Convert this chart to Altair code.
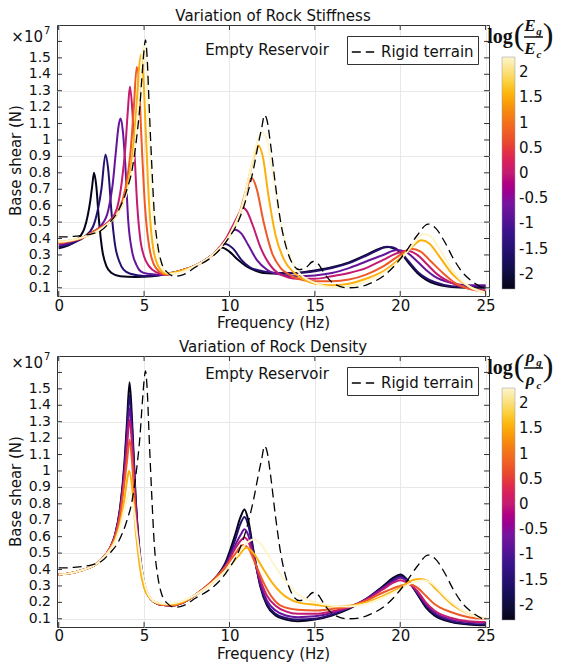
import altair as alt
import pandas as pd

FONT = "DejaVu Sans"
SERIF = "Liberation Serif"

LEVELS = [-2.3, -1.53, -0.77, 0.0, 0.77, 1.53, 2.3]

# ---------------- Top panel: variation of rock stiffness ----------------
S_F0 = [0, 0.5, 1.0, 1.3, 1.5, 1.7, 1.85, 1.95, 2.07, 2.2, 2.35, 2.55, 2.8, 3.1, 3.6, 4.5, 5.5, 6.3, 7.0, 8.0, 9.0, 9.55, 10.0, 10.5, 11.0, 11.5, 12.0, 13.0, 14.0, 15.0, 16.0, 17.0, 18.0, 18.6, 19.0, 19.3, 19.7, 20.0, 20.5, 21.0, 21.5, 22.0, 23.0, 24.0, 25.0]
S_V0 = [0.34, 0.355, 0.385, 0.42, 0.46, 0.54, 0.63, 0.71, 0.8, 0.72, 0.52, 0.33, 0.23, 0.19, 0.17, 0.165, 0.17, 0.185, 0.2, 0.235, 0.3, 0.346, 0.32, 0.27, 0.23, 0.205, 0.19, 0.185, 0.19, 0.205, 0.225, 0.255, 0.3, 0.33, 0.345, 0.348, 0.335, 0.315, 0.25, 0.19, 0.15, 0.125, 0.105, 0.1, 0.1]

S_F1 = [0, 0.5, 1.0, 1.5, 2.0, 2.3, 2.5, 2.74, 2.9, 3.1, 3.3, 3.55, 3.8, 4.2, 5.0, 6.0, 7.0, 8.0, 9.0, 9.75, 10.2, 10.7, 11.2, 12.0, 13.0, 14.0, 15.0, 16.0, 17.0, 18.0, 18.7, 19.2, 19.6, 20.0, 20.5, 21.0, 21.5, 22.0, 23.0, 24.0, 25.0]
S_V1 = [0.35, 0.36, 0.38, 0.41, 0.47, 0.58, 0.7, 0.91, 0.82, 0.55, 0.36, 0.26, 0.21, 0.185, 0.172, 0.178, 0.2, 0.235, 0.3, 0.367, 0.34, 0.27, 0.225, 0.2, 0.19, 0.19, 0.2, 0.22, 0.25, 0.295, 0.33, 0.35, 0.345, 0.32, 0.26, 0.2, 0.16, 0.135, 0.11, 0.105, 0.11]

S_F2 = [0, 0.5, 1.0, 1.5, 2.0, 2.5, 2.9, 3.15, 3.35, 3.5, 3.62, 3.75, 3.9, 4.07, 4.3, 4.55, 4.8, 5.2, 5.8, 6.3, 7.0, 8.0, 9.0, 9.6, 10.0, 10.33, 10.7, 11.1, 11.6, 12.2, 13.0, 14.0, 15.0, 16.0, 17.0, 18.0, 19.0, 19.8, 20.3, 21.0, 21.5, 22.0, 23.0, 24.0, 24.6, 25.0]
S_V2 = [0.36, 0.37, 0.39, 0.41, 0.44, 0.48, 0.57, 0.72, 0.93, 1.08, 1.13, 1.06, 0.85, 0.51, 0.32, 0.24, 0.2, 0.185, 0.18, 0.18, 0.2, 0.235, 0.3, 0.36, 0.42, 0.454, 0.43, 0.36, 0.27, 0.21, 0.18, 0.17, 0.175, 0.19, 0.22, 0.26, 0.3, 0.33, 0.32, 0.26, 0.21, 0.17, 0.13, 0.115, 0.115, 0.115]

S_F3 = [0, 0.5, 1.0, 1.5, 2.0, 2.5, 3.0, 3.4, 3.7, 3.9, 4.05, 4.17, 4.3, 4.45, 4.6, 4.8, 5.0, 5.3, 5.7, 6.3, 7.0, 8.0, 9.0, 9.8, 10.3, 10.6, 10.78, 11.0, 11.4, 11.8, 12.3, 13.0, 14.0, 15.0, 16.0, 17.0, 18.0, 19.0, 19.8, 20.4, 21.0, 21.6, 22.2, 23.0, 24.0, 25.0]
S_V3 = [0.37, 0.38, 0.39, 0.41, 0.44, 0.47, 0.51, 0.58, 0.75, 0.95, 1.18, 1.324, 1.2, 0.9, 0.6, 0.38, 0.29, 0.23, 0.195, 0.18, 0.2, 0.235, 0.3, 0.4, 0.5, 0.56, 0.589, 0.57, 0.47, 0.35, 0.25, 0.18, 0.155, 0.155, 0.17, 0.19, 0.22, 0.27, 0.31, 0.325, 0.3, 0.24, 0.18, 0.13, 0.095, 0.085]

S_F4 = [0, 0.5, 1.0, 1.5, 2.0, 2.5, 3.0, 3.5, 3.9, 4.2, 4.4, 4.57, 4.7, 4.85, 5.05, 5.3, 5.7, 6.3, 7.0, 8.0, 9.0, 10.0, 10.6, 11.0, 11.31, 11.6, 12.0, 12.5, 13.0, 13.5, 14.0, 15.0, 16.0, 17.0, 18.0, 19.0, 20.0, 20.64, 21.2, 21.8, 22.5, 23.2, 24.0, 25.0]
S_V4 = [0.37, 0.38, 0.39, 0.41, 0.44, 0.47, 0.5, 0.57, 0.7, 0.92, 1.2, 1.445, 1.35, 1.0, 0.6, 0.35, 0.22, 0.18, 0.2, 0.235, 0.3, 0.42, 0.56, 0.7, 0.768, 0.7, 0.5, 0.31, 0.22, 0.18, 0.155, 0.14, 0.14, 0.15, 0.18, 0.23, 0.3, 0.337, 0.32, 0.26, 0.19, 0.13, 0.095, 0.075]

S_F5 = [0, 0.5, 1.0, 1.5, 2.0, 2.5, 3.0, 3.5, 4.0, 4.3, 4.55, 4.72, 4.82, 4.95, 5.1, 5.3, 5.55, 5.9, 6.3, 7.0, 8.0, 9.0, 10.0, 10.7, 11.2, 11.5, 11.7, 11.95, 12.3, 12.7, 13.2, 13.7, 14.2, 15.0, 16.0, 17.0, 18.0, 19.0, 20.0, 20.7, 21.24, 21.7, 22.3, 23.0, 24.0, 25.0]
S_V5 = [0.38, 0.385, 0.395, 0.41, 0.43, 0.46, 0.5, 0.56, 0.7, 0.9, 1.2, 1.45, 1.52, 1.4, 1.05, 0.6, 0.33, 0.22, 0.185, 0.2, 0.235, 0.3, 0.42, 0.58, 0.8, 0.92, 0.966, 0.9, 0.65, 0.42, 0.27, 0.2, 0.16, 0.125, 0.115, 0.125, 0.155, 0.2, 0.28, 0.35, 0.389, 0.37, 0.29, 0.19, 0.11, 0.07]

S_F6 = [0, 0.5, 1.0, 1.5, 2.0, 2.5, 3.0, 3.5, 4.0, 4.4, 4.7, 4.87, 4.98, 5.1, 5.25, 5.45, 5.7, 6.1, 6.5, 7.0, 8.0, 9.0, 10.0, 10.8, 11.3, 11.6, 11.9, 12.2, 12.5, 12.9, 13.4, 14.0, 15.0, 16.0, 17.0, 18.0, 19.0, 20.0, 20.8, 21.34, 21.8, 22.4, 23.1, 24.0, 25.0]
S_V6 = [0.38, 0.385, 0.395, 0.41, 0.43, 0.46, 0.5, 0.56, 0.68, 0.9, 1.25, 1.5, 1.58, 1.5, 1.15, 0.7, 0.38, 0.22, 0.185, 0.19, 0.235, 0.3, 0.42, 0.62, 0.85, 0.98, 1.047, 1.0, 0.82, 0.55, 0.33, 0.2, 0.13, 0.105, 0.11, 0.14, 0.19, 0.27, 0.37, 0.428, 0.41, 0.32, 0.2, 0.11, 0.07]

# ---------------- Rigid terrain (dashed, both panels) ----------------
RIGID_F = [0, 0.5, 1.0, 1.5, 2.0, 2.5, 3.0, 3.5, 4.0, 4.3, 4.55, 4.75, 4.9, 5.0, 5.08, 5.18, 5.3, 5.45, 5.6, 5.8, 6.0, 6.3, 6.8, 7.3, 8.0, 9.0, 9.5, 10.0, 10.5, 11.0, 11.4, 11.7, 11.9, 12.05, 12.2, 12.4, 12.7, 13.0, 13.4, 13.8, 14.1, 14.5, 14.9, 15.2, 15.6, 16.2, 16.9, 17.6, 18.3, 19.0, 19.8, 20.4, 21.0, 21.63, 22.1, 22.6, 23.1, 23.6, 24.2, 25.0]
RIGID_V = [0.41, 0.41, 0.415, 0.42, 0.43, 0.45, 0.5, 0.57, 0.7, 0.82, 1.0, 1.2, 1.42, 1.55, 1.61, 1.5, 1.2, 0.85, 0.55, 0.36, 0.26, 0.2, 0.17, 0.18, 0.225, 0.29, 0.34, 0.41, 0.5, 0.65, 0.82, 0.98, 1.08, 1.152, 1.12, 0.98, 0.72, 0.5, 0.32, 0.23, 0.21, 0.225, 0.26, 0.245, 0.18, 0.12, 0.1, 0.105, 0.13, 0.17, 0.25, 0.33, 0.42, 0.488, 0.46, 0.38, 0.28, 0.2, 0.14, 0.09]

# ---------------- Bottom panel: variation of rock density ----------------
D_F0 = [0, 0.5, 1.0, 1.5, 2.0, 2.5, 3.0, 3.3, 3.6, 3.85, 4.0, 4.15, 4.3, 4.5, 4.75, 5.0, 5.4, 6.0, 6.6, 7.2, 8.0, 9.0, 9.8, 10.3, 10.65, 10.88, 11.1, 11.4, 11.8, 12.2, 12.7, 13.3, 14.0, 15.0, 16.0, 17.0, 18.0, 19.0, 19.6, 20.0, 20.4, 21.0, 21.5, 22.0, 23.0, 24.0, 25.0]
D_V0 = [0.37, 0.375, 0.385, 0.4, 0.42, 0.46, 0.53, 0.61, 0.78, 1.05, 1.3, 1.54, 1.3, 0.85, 0.5, 0.32, 0.22, 0.185, 0.18, 0.195, 0.245, 0.33, 0.45, 0.6, 0.72, 0.765, 0.7, 0.52, 0.3, 0.18, 0.12, 0.095, 0.085, 0.095, 0.12, 0.16, 0.22, 0.3, 0.35, 0.37, 0.34, 0.25, 0.17, 0.12, 0.08, 0.065, 0.06]

D_F1 = [0, 0.5, 1.0, 1.5, 2.0, 2.5, 3.0, 3.3, 3.6, 3.85, 4.0, 4.15, 4.3, 4.5, 4.75, 5.0, 5.4, 6.0, 6.6, 7.2, 8.0, 9.0, 9.8, 10.3, 10.65, 10.88, 11.1, 11.4, 11.8, 12.2, 12.7, 13.3, 14.0, 15.0, 16.0, 17.0, 18.0, 19.0, 19.6, 20.0, 20.4, 21.0, 21.5, 22.0, 23.0, 24.0, 25.0]
D_V1 = [0.37, 0.375, 0.385, 0.4, 0.42, 0.46, 0.53, 0.61, 0.77, 1.02, 1.25, 1.46, 1.25, 0.83, 0.49, 0.32, 0.22, 0.185, 0.18, 0.195, 0.245, 0.33, 0.44, 0.57, 0.68, 0.72, 0.67, 0.51, 0.31, 0.19, 0.13, 0.105, 0.095, 0.1, 0.125, 0.165, 0.22, 0.29, 0.34, 0.36, 0.335, 0.255, 0.18, 0.13, 0.085, 0.07, 0.065]

D_F2 = [0, 0.5, 1.0, 1.5, 2.0, 2.5, 3.0, 3.3, 3.6, 3.85, 4.0, 4.15, 4.3, 4.5, 4.75, 5.0, 5.4, 6.0, 6.6, 7.2, 8.0, 9.0, 9.8, 10.3, 10.65, 10.88, 11.1, 11.4, 11.8, 12.2, 12.7, 13.3, 14.0, 15.0, 16.0, 17.0, 18.0, 19.0, 19.6, 20.0, 20.4, 21.0, 21.5, 22.0, 23.0, 24.0, 25.0]
D_V2 = [0.37, 0.375, 0.385, 0.4, 0.42, 0.46, 0.53, 0.61, 0.76, 1.0, 1.2, 1.38, 1.2, 0.8, 0.48, 0.31, 0.22, 0.185, 0.18, 0.195, 0.245, 0.33, 0.43, 0.54, 0.61, 0.645, 0.61, 0.49, 0.32, 0.21, 0.15, 0.12, 0.11, 0.115, 0.135, 0.17, 0.22, 0.29, 0.33, 0.35, 0.33, 0.26, 0.19, 0.14, 0.095, 0.08, 0.075]

D_F3 = [0, 0.5, 1.0, 1.5, 2.0, 2.5, 3.0, 3.3, 3.6, 3.85, 4.0, 4.15, 4.3, 4.5, 4.75, 5.0, 5.4, 6.0, 6.6, 7.2, 8.0, 9.0, 9.8, 10.3, 10.65, 10.88, 11.1, 11.4, 11.8, 12.2, 12.7, 13.3, 14.0, 15.0, 16.0, 17.0, 18.0, 19.0, 19.6, 20.0, 20.4, 21.0, 21.5, 22.0, 23.0, 24.0, 25.0]
D_V3 = [0.37, 0.375, 0.385, 0.4, 0.42, 0.46, 0.53, 0.6, 0.75, 0.97, 1.15, 1.31, 1.15, 0.78, 0.47, 0.31, 0.22, 0.185, 0.18, 0.195, 0.245, 0.33, 0.42, 0.52, 0.575, 0.595, 0.57, 0.48, 0.34, 0.24, 0.18, 0.145, 0.13, 0.13, 0.145, 0.17, 0.215, 0.28, 0.32, 0.335, 0.32, 0.27, 0.2, 0.15, 0.105, 0.085, 0.08]

D_F4 = [0, 0.5, 1.0, 1.5, 2.0, 2.5, 3.0, 3.3, 3.6, 3.85, 4.0, 4.15, 4.3, 4.5, 4.75, 5.0, 5.4, 6.0, 6.6, 7.2, 8.0, 9.0, 9.8, 10.3, 10.8, 11.1, 11.5, 12.0, 12.5, 13.0, 14.0, 15.0, 16.0, 17.0, 18.0, 19.0, 20.0, 20.5, 21.0, 21.5, 22.0, 23.0, 24.0, 25.0]
D_V4 = [0.37, 0.375, 0.385, 0.4, 0.42, 0.46, 0.53, 0.6, 0.73, 0.93, 1.06, 1.19, 1.05, 0.72, 0.45, 0.3, 0.22, 0.185, 0.18, 0.195, 0.245, 0.33, 0.42, 0.49, 0.549, 0.53, 0.44, 0.32, 0.23, 0.18, 0.155, 0.15, 0.16, 0.175, 0.21, 0.26, 0.3, 0.31, 0.29, 0.24, 0.19, 0.14, 0.11, 0.1]

D_F5 = [0, 0.5, 1.0, 1.5, 2.0, 2.5, 3.0, 3.3, 3.6, 3.85, 4.0, 4.12, 4.3, 4.5, 4.75, 5.0, 5.4, 6.0, 6.6, 7.2, 8.0, 9.0, 10.0, 10.5, 11.0, 11.4, 12.0, 12.5, 13.0, 14.0, 15.0, 16.0, 17.0, 18.0, 19.0, 20.0, 20.6, 21.15, 21.6, 22.2, 23.0, 24.0, 25.0]
D_V5 = [0.37, 0.375, 0.385, 0.4, 0.42, 0.46, 0.52, 0.58, 0.68, 0.83, 0.94, 1.0, 0.9, 0.65, 0.42, 0.29, 0.22, 0.19, 0.185, 0.2, 0.245, 0.32, 0.42, 0.48, 0.532, 0.5, 0.4, 0.32, 0.26, 0.2, 0.185, 0.175, 0.18, 0.2, 0.24, 0.29, 0.33, 0.342, 0.33, 0.27, 0.19, 0.13, 0.1]

D_F6 = [0, 0.5, 1.0, 1.5, 2.0, 2.5, 3.0, 3.3, 3.6, 3.85, 4.0, 4.15, 4.35, 4.6, 4.9, 5.2, 5.7, 6.3, 7.0, 8.0, 9.0, 10.0, 10.6, 11.0, 11.4, 11.8, 12.3, 13.0, 13.5, 14.0, 14.5, 15.0, 16.0, 17.0, 18.0, 19.0, 20.0, 20.7, 21.3, 21.8, 22.5, 23.0, 24.0, 25.0]
D_V6 = [0.37, 0.375, 0.385, 0.4, 0.42, 0.46, 0.52, 0.57, 0.66, 0.77, 0.83, 0.87, 0.8, 0.6, 0.38, 0.26, 0.2, 0.19, 0.2, 0.245, 0.32, 0.42, 0.51, 0.56, 0.583, 0.56, 0.48, 0.37, 0.3, 0.25, 0.22, 0.2, 0.18, 0.175, 0.19, 0.23, 0.28, 0.32, 0.335, 0.32, 0.25, 0.2, 0.13, 0.1]

# ---------------- ticks / colour scale ----------------
X_TICKS = [0, 5, 10, 15, 20, 25]
Y_TICKS = [0.1, 0.2, 0.3, 0.4, 0.5, 0.6, 0.7, 0.8, 0.9, 1.0, 1.1, 1.2, 1.3, 1.4, 1.5, 1.6]
Y_LABEL_VALUES = [0.1, 0.2, 0.3, 0.4, 0.5, 0.6, 0.7, 0.8, 0.9, 1.0, 1.1, 1.2, 1.3, 1.4, 1.5]
Y_LABELS = ["0.1", "0.2", "0.3", "0.4", "0.5", "0.6", "0.7", "0.8", "0.9", "1", "1.1", "1.2", "1.3", "1.4", "1.5"]
CB_TICKS = [-2, -1.5, -1, -0.5, 0, 0.5, 1, 1.5, 2]
CB_STOPS = [-2.3, -1.725, -1.15, -0.575, 0.0, 0.575, 1.15, 1.725, 2.3]
CB_COLORS = ["#05031a", "#1b0e5e", "#3c138f", "#7a15a0", "#c41b72", "#e8452f", "#f57f12", "#fcc81a", "#fdf5cc"]

W, H = 432, 271


def panel(fs, vs, title, sym, txt_y, x10_y, xlabel_pad, xtitle_pad):
    rows = []
    for lvl, f, v in zip(LEVELS, fs, vs):
        for a, b in zip(f, v):
            rows.append({"f": a, "v": b, "k": lvl})
    df = pd.DataFrame(rows)
    rig = pd.DataFrame({"f": RIGID_F, "v": RIGID_V, "s": ["Rigid terrain"] * len(RIGID_F)})

    xs = alt.Scale(domain=[-0.1, 25.2], nice=False, zero=False)
    ys = alt.Scale(domain=[0.05, 1.7], nice=False, zero=False)
    cs = alt.Scale(domain=CB_STOPS, range=CB_COLORS)

    lines = alt.Chart(df).mark_line(strokeWidth=2, interpolate="monotone").encode(
        x=alt.X("f:Q", scale=xs, axis=alt.Axis(
            values=X_TICKS, title="Frequency (Hz)", grid=True, ticks=False, domain=False,
            labelFontSize=15, titleFontSize=15, labelFont=FONT, titleFont=FONT,
            labelPadding=xlabel_pad, titlePadding=xtitle_pad, titleFontWeight="normal",
            labelColor="#111", titleColor="#111", gridColor="#e8e8e8")),
        y=alt.Y("v:Q", scale=ys, axis=alt.Axis(
            values=Y_TICKS, title=None, labels=False, grid=True, ticks=False, domain=False,
            gridColor="#e8e8e8")),
        color=alt.Color("k:Q", scale=cs, legend=alt.Legend(
            orient="none", legendX=445, legendY=32, direction="vertical", title=None,
            gradientLength=232, gradientThickness=13, values=CB_TICKS,
            labelExpr="datum.value < 0 ? '-' + format(-datum.value, '~g') : format(datum.value, '~g')",
            labelFontSize=15, labelFont=FONT, labelColor="#111", labelOffset=4,
            gradientStrokeColor="#999", gradientStrokeWidth=0.5)),
        detail="k:N",
        order="f:Q",
    )

    rigid = alt.Chart(rig).mark_line(strokeWidth=1.3, color="black", interpolate="monotone").encode(
        x=alt.X("f:Q", scale=xs),
        y=alt.Y("v:Q", scale=ys),
        strokeDash=alt.StrokeDash("s:N", scale=alt.Scale(domain=["Rigid terrain"], range=[[9, 5]]),
                                  legend=alt.Legend(
                                      title=None, orient="top-right", offset=11, fillColor="white",
                                      strokeColor="#333", padding=4, labelFontSize=15, labelFont=FONT,
                                      labelColor="#111", symbolType="stroke", symbolStrokeColor="black",
                                      symbolSize=500, symbolStrokeWidth=1.4, labelOffset=6)),
        order="f:Q",
    )

    ydf = pd.DataFrame({"t": Y_TICKS})
    xdf = pd.DataFrame({"t": X_TICKS})
    tick_l = alt.Chart(ydf).mark_rule(color="#333").encode(
        y=alt.Y("t:Q", scale=ys), x=alt.value(0), x2=alt.value(5))
    tick_r = alt.Chart(ydf).mark_rule(color="#333").encode(
        y=alt.Y("t:Q", scale=ys), x=alt.value(W - 5), x2=alt.value(W))
    tick_b = alt.Chart(xdf).mark_rule(color="#333").encode(
        x=alt.X("t:Q", scale=xs), y=alt.value(H - 5), y2=alt.value(H))
    tick_t = alt.Chart(xdf).mark_rule(color="#333").encode(
        x=alt.X("t:Q", scale=xs), y=alt.value(0), y2=alt.value(5))

    # y tick labels and y title as text
    ylab_df = pd.DataFrame({"t": Y_LABEL_VALUES, "lab": Y_LABELS})
    ylabs = alt.Chart(ylab_df).mark_text(
        fontSize=14, font=FONT, align="right", baseline="middle", color="#111").encode(
        y=alt.Y("t:Q", scale=ys), x=alt.value(-6), text="lab:N")
    ytitle = alt.Chart(pd.DataFrame({"t": ["Base shear (N)"]})).mark_text(
        fontSize=15, font=FONT, angle=270, baseline="middle", color="#111").encode(
        text="t:N", x=alt.value(-41), y=alt.value(H / 2))

    one = pd.DataFrame({"t": ["Empty Reservoir"]})
    empty = alt.Chart(one).mark_text(fontSize=15, font=FONT, color="#111").encode(
        text="t:N", x=alt.value(210), y=alt.value(txt_y))

    x10 = alt.Chart(pd.DataFrame({"t": ["×10"]})).mark_text(
        fontSize=15, font=FONT, align="right", color="#111").encode(
        text="t:N", x=alt.value(-14), y=alt.value(x10_y))
    x7 = alt.Chart(pd.DataFrame({"t": ["7"]})).mark_text(
        fontSize=10, font=FONT, align="left", color="#111").encode(
        text="t:N", x=alt.value(-13), y=alt.value(x10_y - 6))

    # colour-bar title: log( X_g / X_c )
    lg = alt.Chart(pd.DataFrame({"t": ["log"]})).mark_text(
        fontSize=20, font=SERIF, fontWeight="bold", color="#111").encode(
        text="t:N", x=alt.value(443), y=alt.value(12))
    pl = alt.Chart(pd.DataFrame({"t": ["("]})).mark_text(
        fontSize=32, font=SERIF, color="#111").encode(text="t:N", x=alt.value(462), y=alt.value(10))
    pr = alt.Chart(pd.DataFrame({"t": [")"]})).mark_text(
        fontSize=32, font=SERIF, color="#111").encode(text="t:N", x=alt.value(491), y=alt.value(10))
    num = alt.Chart(pd.DataFrame({"t": [sym]})).mark_text(
        fontSize=17, font=SERIF, fontWeight="bold", fontStyle="italic", color="#111").encode(
        text="t:N", x=alt.value(473), y=alt.value(1))
    num_s = alt.Chart(pd.DataFrame({"t": ["g"]})).mark_text(
        fontSize=11, font=SERIF, fontWeight="bold", fontStyle="italic", color="#111").encode(
        text="t:N", x=alt.value(482), y=alt.value(7))
    den = alt.Chart(pd.DataFrame({"t": [sym]})).mark_text(
        fontSize=17, font=SERIF, fontWeight="bold", fontStyle="italic", color="#111").encode(
        text="t:N", x=alt.value(473), y=alt.value(24))
    den_s = alt.Chart(pd.DataFrame({"t": ["c"]})).mark_text(
        fontSize=11, font=SERIF, fontWeight="bold", fontStyle="italic", color="#111").encode(
        text="t:N", x=alt.value(482), y=alt.value(30))
    bar = alt.Chart(pd.DataFrame({"t": [0]})).mark_rule(color="#111", strokeWidth=1.5).encode(
        x=alt.value(467), x2=alt.value(486), y=alt.value(12))

    return alt.layer(
        lines, rigid, tick_l, tick_r, tick_b, tick_t, ylabs, ytitle, empty, x10, x7,
        lg, pl, pr, num, num_s, den, den_s, bar,
    ).properties(
        width=W, height=H,
        title=alt.TitleParams(title, fontSize=15, font=FONT, fontWeight="normal",
                              color="#111", offset=-7, anchor="middle", frame="group"),
    )


top = panel([S_F0, S_F1, S_F2, S_F3, S_F4, S_F5, S_F6],
            [S_V0, S_V1, S_V2, S_V3, S_V4, S_V5, S_V6],
            "Variation of Rock Stiffness", "E", 25, 12, 2, 2)
bottom = panel([D_F0, D_F1, D_F2, D_F3, D_F4, D_F5, D_F6],
               [D_V0, D_V1, D_V2, D_V3, D_V4, D_V5, D_V6],
               "Variation of Rock Density", "ρ", 18, 7, 1, 3)

chart = alt.vconcat(top, bottom, spacing=8).resolve_scale(
    color="independent", strokeDash="independent"
).resolve_legend(
    color="independent", strokeDash="independent"
).properties(
    padding={"left": 0, "top": 0, "right": 0, "bottom": 0}
).configure_view(stroke="#333", strokeWidth=1)

chart.save("out.html", embed_options={"renderer": "svg", "actions": False})
